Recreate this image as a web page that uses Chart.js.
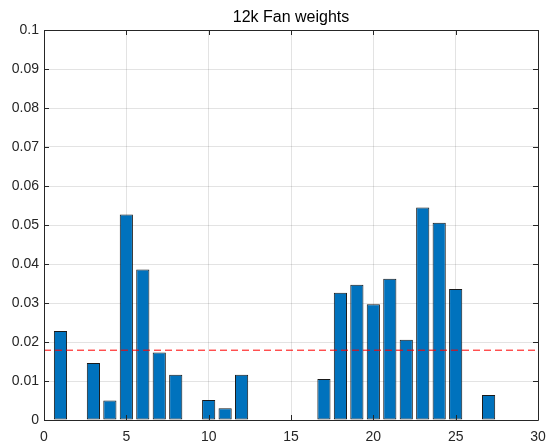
<!DOCTYPE html>
<html>
<head>
    <script src="https://cdn.jsdelivr.net/npm/chart.js@4"></script>
    <style>
        body { margin: 0; background: #fff; }
        #wrap { width: 546px; height: 444px; }
    </style>
</head>
<body>
<div id="wrap"><canvas id="myChart"></canvas></div>
<script>
    // feature index and weight
    var features = [1, 2, 3, 4, 5, 6, 7, 8, 9, 10, 11, 12, 13, 14, 15, 16, 17, 18, 19, 20, 21, 22, 23, 24, 25, 26, 27, 28];
    var weights = [0.0228, 0, 0.0146, 0.0050, 0.0527, 0.0386, 0.0173, 0.0116, 0, 0.0051, 0.0030, 0.0116,
        0, 0, 0, 0, 0.0105, 0.0326, 0.0347, 0.0297, 0.0362, 0.0206, 0.0545, 0.0506, 0.0336, 0, 0.0064, 0];
    var meanLine = 0.0179;
    var xTicks = [0, 5, 10, 15, 20, 25, 30];
    var yTicks = [0, 0.01, 0.02, 0.03, 0.04, 0.05, 0.06, 0.07, 0.08, 0.09, 0.1];
    var yTickLabels = ['0', '0.01', '0.02', '0.03', '0.04', '0.05', '0.06', '0.07', '0.08', '0.09', '0.1'];

    var axisColor = '#262626';
    var gridColor = 'rgba(38,38,38,0.13)';

    // matlab style box with inward ticks
    var boxPlugin = {
        id: 'box',
        afterLayout: function (chart) {
            chart.titleBlock.left = chart.chartArea.left;
            chart.titleBlock.right = chart.chartArea.right;
        },
        afterDraw: function (chart) {
            var ctx = chart.ctx, a = chart.chartArea;
            var xs = chart.scales.x, ys = chart.scales.y;
            var len = 5;
            ctx.save();
            ctx.strokeStyle = axisColor;
            ctx.lineWidth = 1;
            ctx.beginPath();
            ctx.rect(Math.round(a.left) + 0.5, Math.round(a.top) + 0.5,
                Math.round(a.right) - Math.round(a.left), Math.round(a.bottom) - Math.round(a.top));
            xTicks.forEach(function (t) {
                var px = Math.round(xs.getPixelForValue(t)) + 0.5;
                ctx.moveTo(px, a.bottom);
                ctx.lineTo(px, a.bottom - len);
                ctx.moveTo(px, a.top);
                ctx.lineTo(px, a.top + len);
            });
            yTicks.forEach(function (t) {
                var py = Math.round(ys.getPixelForValue(t)) + 0.5;
                ctx.moveTo(a.left, py);
                ctx.lineTo(a.left + len, py);
                ctx.moveTo(a.right, py);
                ctx.lineTo(a.right - len, py);
            });
            ctx.stroke();
            ctx.restore();
        }
    };

    var chart = new Chart(document.getElementById('myChart').getContext('2d'), {
        type: 'bar',
        data: {
            datasets: [{
                type: 'line',
                data: [{x: xTicks[0], y: meanLine}, {x: xTicks[xTicks.length - 1], y: meanLine}],
                borderColor: '#ff0000',
                borderWidth: 1,
                borderDash: [7, 4],
                pointRadius: 0,
                fill: false,
                order: 0
            }, {
                type: 'bar',
                data: features.map(function (f, i) { return {x: f, y: weights[i]}; }),
                backgroundColor: '#0072BD',
                borderColor: '#1a1a1a',
                borderWidth: 1,
                borderSkipped: false,
                barPercentage: 0.8,
                categoryPercentage: 1,
                order: 1
            }]
        },
        options: {
            responsive: true,
            maintainAspectRatio: false,
            animation: false,
            layout: {padding: {left: 0, right: 8, top: 0, bottom: 0}},
            plugins: {
                legend: {display: false},
                tooltip: {enabled: false},
                title: {
                    display: true,
                    text: '12k Fan weights',
                    color: '#000',
                    font: {family: 'Liberation Sans', size: 16, weight: 'normal'},
                    padding: {top: 8.4, bottom: 2.4}
                }
            },
            scales: {
                x: {
                    type: 'linear',
                    min: 0,
                    max: 30,
                    offset: false,
                    afterBuildTicks: function (s) { s.ticks = xTicks.map(function (v) { return {value: v}; }); },
                    afterFit: function (s) {
                        s.height = 24;
                        s.paddingLeft = 0;
                        s.paddingRight = 0;
                    },
                    grid: {color: gridColor, drawTicks: false, offset: false},
                    border: {display: false},
                    ticks: {
                        color: axisColor,
                        padding: 9,
                        maxRotation: 0,
                        font: {family: 'Liberation Sans', size: 14}
                    }
                },
                y: {
                    min: 0,
                    max: 0.1,
                    afterBuildTicks: function (s) { s.ticks = yTicks.map(function (v) { return {value: v}; }); },
                    afterFit: function (s) {
                        s.width = 44;
                        s.paddingTop = 0;
                        s.paddingBottom = 0;
                    },
                    grid: {color: gridColor, drawTicks: false},
                    border: {display: false},
                    ticks: {
                        color: axisColor,
                        padding: 5,
                        font: {family: 'Liberation Sans', size: 14},
                        callback: function (v, i) { return yTickLabels[i]; }
                    }
                }
            }
        },
        plugins: [boxPlugin]
    });
</script>
</body>
</html>
